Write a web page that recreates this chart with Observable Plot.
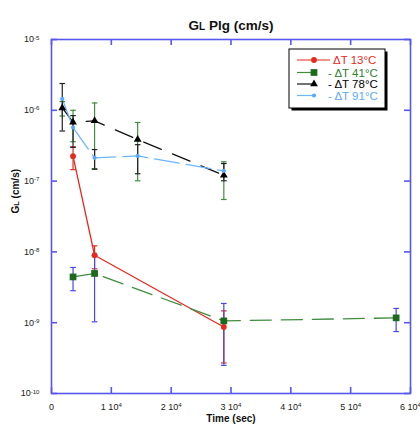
<!DOCTYPE html>
<html><head><meta charset="utf-8">
<script src="https://cdn.jsdelivr.net/npm/d3@7"></script>
<script src="https://cdn.jsdelivr.net/npm/@observablehq/plot@0.6"></script>
<style>
body{margin:0;background:#fff;}
svg{font-family:"Liberation Sans",Arial,Helvetica,sans-serif;}
</style>
</head><body><div id="chart"></div>
<script>
// ---- text ----
const title = "GL Plg (cm/s)";
const xLabel = "Time (sec)";
const yLabel = "GL (cm/s)";
const seriesNames = ["ΔT 13°C", "ΔT 41°C", "ΔT 78°C", "ΔT 91°C"];
const legendPrefix = ["", "- ", "- ", "- "];

// ---- ticks ----
const xTicks = [0, 10000, 20000, 30000, 40000, 50000, 60000];
const xTickLabels = ["0", "1 10^4", "2 10^4", "3 10^4", "4 10^4", "5 10^4", "6 10^4"];
const yTicks = [1e-10, 1e-9, 1e-8, 1e-7, 1e-6, 1e-5];
const yTickLabels = ["10^-10", "10^-9", "10^-8", "10^-7", "10^-6", "10^-5"];

// ---- data (time s, GL cm/s, error) ----
const t13 = [3600, 7200, 28800];
const g13 = [2.25e-7, 8.97e-9, 8.7e-10];
const e13 = [0.8e-7, 3.2e-9, 0.6e-9];

const t41 = [3600, 7200, 28800, 57600];
const g41 = [4.43e-9, 4.96e-9, 1.06e-9, 1.17e-9];
const e41 = [1.6e-9, 3.93e-9, 0.81e-9, 0.42e-9];

const t78 = [1800, 3600, 7200, 14400, 28800];
const g78 = [1.08e-6, 6.8e-7, 7.1e-7, 3.87e-7, 1.21e-7];
const e78 = [0.25e-6, 3.2e-7, 5.6e-7, 2.86e-7, 0.66e-7];

const t91 = [1800, 3600, 7200, 14400, 28800];
const g91 = [1.45e-6, 5.7e-7, 2.13e-7, 2.27e-7, 1.39e-7];
const e91 = [0.94e-6, 2.7e-7, 0.66e-7, 1.0e-7, 0.38e-7];

// ---- styles ----
const blue = "#5757ef";
const styles = [
  {line:"#e52a1f", mark:"#e52a1f", err:"#e52a1f", text:"#e52a1f", symbol:"circle", r:2.9, dash:null},
  {line:"#3f8d3f", mark:"#1c6a1c", err:"#4545f2", text:"#2f7f2f", symbol:"square", r:3.8, dash:"21,10"},
  {line:"#111111", mark:"#000000", err:"#3f8d3f", text:"#000000", symbol:"triangle", r:2.9, dash:"19,12"},
  {line:"#6cb6ff", mark:"#5aa8ff", err:"#222222", text:"#5aa8ff", symbol:"circle", r:2.1, dash:"25,7"}
];

const raw = [[t13,g13,e13],[t41,g41,e41],[t78,g78,e78],[t91,g91,e91]];
const series = raw.map(([t,g,e],k) => t.map((x,i) => ({series: seriesNames[k], x, y: g[i], e: e[i]})));

const capSymbol = {draw(ctx, size){ const w = Math.sqrt(size/Math.PI); ctx.moveTo(-w,0); ctx.lineTo(w,0); }};

const W = 420, H = 425, mL = 51, mR = 10, mT = 39, mB = 32;
const fw = W - mL - mR, fh = H - mT - mB;
const xMap = new Map(xTicks.map((d,i)=>[d, xTickLabels[i]]));
const yMap = new Map(yTicks.map((d,i)=>[d, yTickLabels[i]]));

const marks = [
  Plot.frame({stroke: blue, strokeWidth: 1.6}),
  Plot.tickX(xTicks, {x: d=>d, stroke: blue, strokeWidth: 1.6, insetTop: fh-6}),
  Plot.tickX(xTicks, {x: d=>d, stroke: blue, strokeWidth: 1.6, insetBottom: fh-6}),
  Plot.tickY(yTicks, {y: d=>d, stroke: blue, strokeWidth: 1.6, insetRight: fw-6}),
  Plot.tickY(yTicks, {y: d=>d, stroke: blue, strokeWidth: 1.6, insetLeft: fw-6}),
  Plot.axisX(xTicks, {tickSize: 0, tickPadding: 10, tickFormat: d=>xMap.get(d), fontSize: 9, label: null, fill:"#222"}),
  Plot.axisY(yTicks, {tickSize: 0, tickPadding: 12, tickFormat: d=>yMap.get(d), fontSize: 9, label: null, fill:"#222"}),
  Plot.text([title], {frameAnchor: "top", dy: -19, fontSize: 13.5, fontWeight: "bold", fill:"#111"}),
  Plot.text([xLabel], {frameAnchor: "bottom", dy: 28, fontSize: 10, fontWeight: "bold", fill:"#111"}),
  Plot.text([yLabel], {frameAnchor: "left", dx: -36, dy: -3, rotate: -90, fontSize: 10, fontWeight: "bold", fill:"#111"})
];
series.forEach((rows,k) => {
  const s = styles[k];
  marks.push(Plot.line(rows, {x:"x", y:"y", stroke: s.line, strokeWidth: 1.3, strokeDasharray: s.dash}));
});
series.forEach((rows,k) => {
  const s = styles[k];
  marks.push(Plot.ruleX(rows, {x:"x", y1: d=>d.y-d.e, y2: d=>d.y+d.e, stroke: s.err, strokeWidth: 1.2}));
  marks.push(Plot.dot(rows, {x:"x", y: d=>d.y+d.e, symbol: capSymbol, r: 2.8, stroke: s.err, strokeWidth: 1.2, fill:"none"}));
  marks.push(Plot.dot(rows, {x:"x", y: d=>d.y-d.e, symbol: capSymbol, r: 2.8, stroke: s.err, strokeWidth: 1.2, fill:"none"}));
});
series.forEach((rows,k) => {
  const s = styles[k];
  marks.push(Plot.dot(rows, {x:"x", y:"y", symbol: s.symbol, r: s.r, fill: s.mark, stroke: "none"}));
});

const svg = Plot.plot({
  width: W, height: H, marginLeft: mL, marginRight: mR, marginTop: mT, marginBottom: mB,
  style: {fontFamily: '"Liberation Sans",Arial,sans-serif', background: "white"},
  x: {domain: [0, 60000]},
  y: {type: "log", domain: [1e-10, 1e-5]},
  marks
});

// superscripts and small "L"
d3.select(svg).selectAll("text").each(function(){
  const s = this.textContent;
  const sel = d3.select(this);
  if (s.includes("^")) {
    const [b, e] = s.split("^");
    sel.text(b);
    sel.append("tspan").attr("dy", "-0.45em").attr("font-size", "0.68em").text(e);
  } else if (s.startsWith("GL")) {
    sel.text("G");
    sel.append("tspan").attr("font-size", "0.74em").text("L");
    sel.append("tspan").text(s.slice(2));
  }
});

// legend
const lg = d3.select(svg).append("g").attr("transform", "translate(289,49)").attr("text-anchor", "start");
lg.append("rect").attr("x", 2.5).attr("y", 2.5).attr("width", 96).attr("height", 59).attr("fill", "#000");
lg.append("rect").attr("x", 0).attr("y", 0).attr("width", 96).attr("height", 59).attr("fill", "#fff").attr("stroke", "#000").attr("stroke-width", 1);
const rowsY = [11, 23.5, 35, 46.5];
const symTypes = {circle: d3.symbolCircle, square: d3.symbolSquare, triangle: d3.symbolTriangle};
seriesNames.forEach((name, k) => {
  const s = styles[k], y = rowsY[k];
  const x2 = k === 0 ? 41 : 25;
  lg.append("line").attr("x1", 8).attr("x2", x2).attr("y1", y).attr("y2", y).attr("stroke", s.line).attr("stroke-width", 1.2);
  lg.append("path").attr("transform", `translate(25,${y})`)
    .attr("d", d3.symbol(symTypes[s.symbol], Math.PI * s.r * s.r)()).attr("fill", s.mark);
  lg.append("text").attr("x", k === 0 ? 44 : 39).attr("y", y).attr("dy", "0.36em").attr("text-anchor", "start")
    .attr("font-size", 11.5).attr("fill", s.text).text(legendPrefix[k] + name);
});

document.getElementById("chart").appendChild(svg);
</script>
</body></html>
